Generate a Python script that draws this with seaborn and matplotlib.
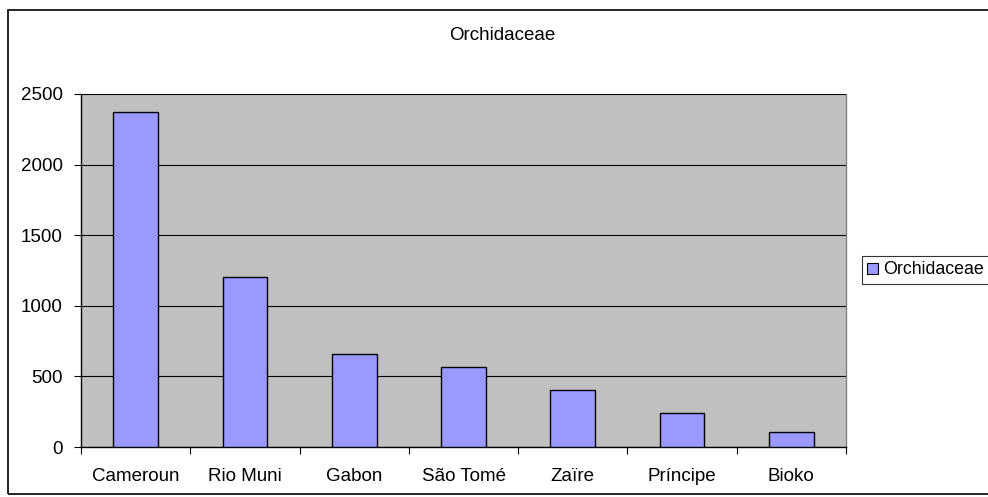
import matplotlib
matplotlib.use("Agg")
import matplotlib.pyplot as plt
import seaborn as sns
import pandas as pd
from matplotlib.patches import Rectangle

categories = ["Cameroun", "Rio Muni", "Gabon", "São Tomé", "Zaïre", "Príncipe", "Bioko"]
values = [2370, 1205, 660, 568, 405, 240, 105]
series_name = "Orchidaceae"
yticks = [0, 500, 1000, 1500, 2000, 2500]

sns.set_theme(style="white")
plt.rcParams['font.family'] = ['Liberation Sans', 'DejaVu Sans']
plt.rcParams['text.color'] = 'black'
plt.rcParams['xtick.color'] = 'black'
plt.rcParams['ytick.color'] = 'black'

FS = 13.5

df = pd.DataFrame({"country": categories, "count": values, "series": series_name})

fig = plt.figure(figsize=(9.88, 4.97), dpi=100)
ax = fig.add_axes([81/988, 50/497, (846-81)/988, (447-94)/497])
ax.set_facecolor("#C0C0C0")

sns.barplot(data=df, x="country", y="count", hue="series", palette=["#9999FF"],
            saturation=1, width=0.41, edgecolor="black", linewidth=1, ax=ax,
            legend=True, zorder=3)

ax.set_ylim(0, 2500)
ax.set_xlim(-0.5, len(categories) - 0.5)
ax.set_yticks(yticks)
ax.set_yticklabels([str(v) for v in yticks], fontsize=FS)
ax.yaxis.grid(True, color="black", linewidth=0.8, zorder=1)
ax.set_axisbelow(True)
ax.set_xlabel("")
ax.set_ylabel("")
ax.tick_params(axis="y", which="major", length=5, width=0.8, color="black", direction="out", pad=8, left=True)
ax.tick_params(axis="x", which="major", length=0, pad=15, labelsize=FS)
ax.set_xticks([i - 0.5 for i in range(len(categories) + 1)], minor=True)
ax.tick_params(axis="x", which="minor", length=5, width=0.8, color="black", direction="out", bottom=True)
for s in ["left", "bottom"]:
    ax.spines[s].set_color("black")
    ax.spines[s].set_linewidth(1)
ax.spines["top"].set_visible(False)
ax.spines["right"].set_color("#808080")
ax.spines["right"].set_linewidth(1)

fig.text(0.508, 1 - 35/497, series_name, fontsize=FS, ha="center", va="center")

leg = ax.legend(loc="center left", bbox_to_anchor=(862/988, 1 - 270/497),
                bbox_transform=fig.transFigure, fontsize=12.8, frameon=True,
                fancybox=False, edgecolor="black", handlelength=0.6, handleheight=0.6,
                handletextpad=0.3, borderpad=0.3, borderaxespad=0)
leg.get_frame().set_linewidth(0.8)
for h in leg.legend_handles:
    h.set_edgecolor("black")
    h.set_linewidth(0.8)

border = Rectangle((8/988, 3/497), 1.0, 1 - 13/497, transform=fig.transFigure,
                   fill=False, edgecolor="black", linewidth=1.2, clip_on=False)
fig.patches.append(border)

fig.savefig("out.png", dpi=100)
